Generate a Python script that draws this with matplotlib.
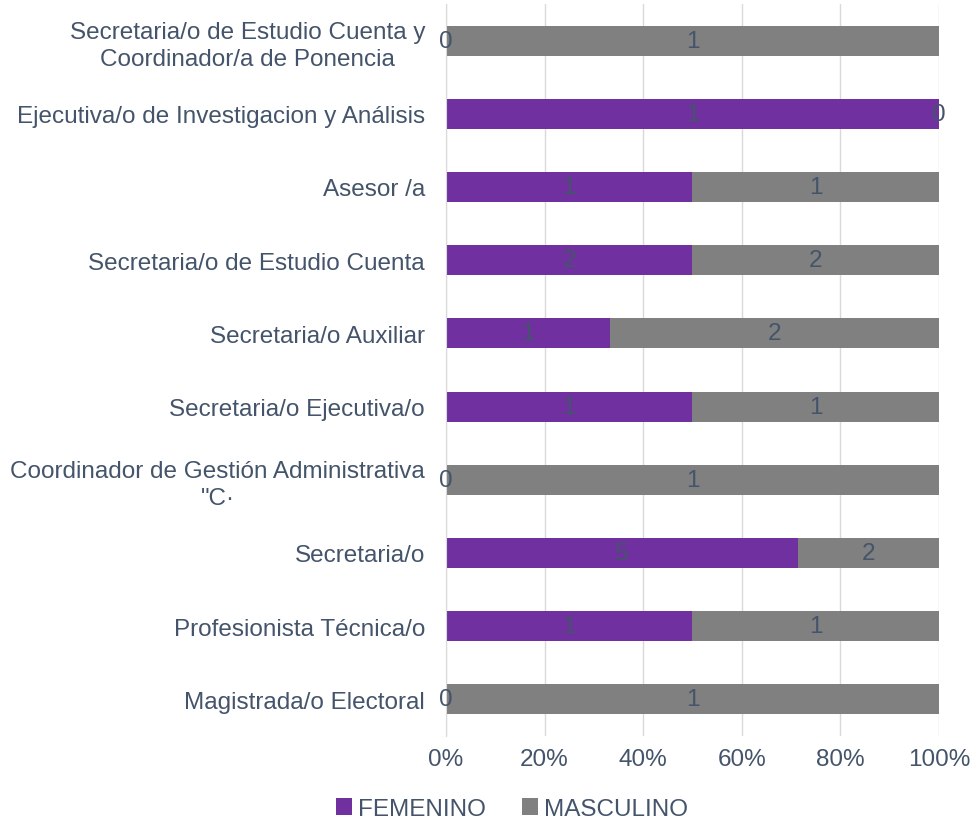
import matplotlib
matplotlib.use('Agg')
import matplotlib.pyplot as plt
import numpy as np

plt.rcParams['font.family'] = ['Liberation Sans', 'DejaVu Sans']

# categories, bottom to top
puestos = [
    'Magistrada/o Electoral',
    'Profesionista Técnica/o',
    'Secretaria/o',
    'Coordinador de Gestión Administrativa\n"C·',
    'Secretaria/o Ejecutiva/o',
    'Secretaria/o Auxiliar',
    'Secretaria/o de Estudio Cuenta',
    'Asesor /a',
    'Ejecutiva/o de Investigacion y Análisis',
    'Secretaria/o de Estudio Cuenta y\nCoordinador/a de Ponencia',
]
femenino = [0, 1, 5, 0, 1, 1, 2, 1, 1, 0]
masculino = [1, 1, 2, 1, 1, 2, 2, 1, 0, 1]

col_fem = '#7030A0'
col_mas = '#808080'
txt = '#44546A'
fs = 17.5

fem = np.array(femenino, dtype=float)
mas = np.array(masculino, dtype=float)
tot = fem + mas
pf = fem / tot
pm = mas / tot
y = np.arange(len(puestos))

fig = plt.figure(figsize=(9.72, 8.29), dpi=100)
ax = fig.add_axes([0.4588, 0.111, 0.5072, 0.883])

b1 = ax.barh(y, pf, height=0.41, color=col_fem, label='FEMENINO', zorder=2)
b2 = ax.barh(y, pm, left=pf, height=0.41, color=col_mas, label='MASCULINO', zorder=2)

# data labels (counts) centred on each segment
for i in range(len(puestos)):
    ax.text(pf[i] / 2, y[i], str(femenino[i]), ha='center', va='center',
            fontsize=fs, color=txt, zorder=3)
    ax.text(pf[i] + pm[i] / 2, y[i], str(masculino[i]), ha='center', va='center',
            fontsize=fs, color=txt, zorder=3)

ax.set_xlim(0, 1)
ax.set_ylim(-0.5, len(puestos) - 0.5)
ax.set_xticks(np.arange(0, 1.01, 0.2))
ax.set_xticklabels(['0%', '20%', '40%', '60%', '80%', '100%'])
ax.set_yticks(y)
ax.set_yticklabels(puestos, multialignment='center', linespacing=1.3)
ax.tick_params(axis='both', length=0, labelsize=fs, labelcolor=txt)
ax.tick_params(axis='x', pad=9)
ax.tick_params(axis='y', pad=15)
ax.grid(axis='x', color='#D9D9D9', linewidth=1, zorder=0)
for s in ['top', 'right', 'bottom']:
    ax.spines[s].set_visible(False)
ax.spines['left'].set_color('#D9D9D9')

leg = fig.legend(handles=[b1, b2], loc='center', bbox_to_anchor=(0.527, 0.023),
                 ncol=2, frameon=False, fontsize=fs, handlelength=0.65,
                 handleheight=0.65, handletextpad=0.25, columnspacing=1.5)
for t in leg.get_texts():
    t.set_color(txt)

fig.savefig('out.png', dpi=100)
